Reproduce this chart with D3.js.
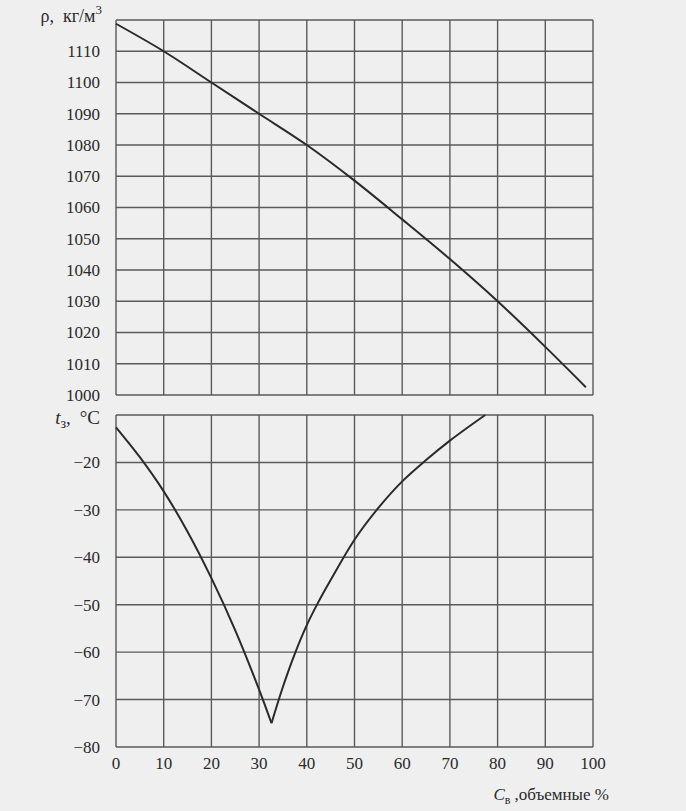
<!DOCTYPE html>
<html>
<head>
<meta charset="utf-8">
<script src="https://cdn.jsdelivr.net/npm/d3@7"></script>
<style>
  body { margin: 0; background: #efefef; }
</style>
</head>
<body>
<script>
// concentration of water, volume %
const xTicks = [0, 10, 20, 30, 40, 50, 60, 70, 80, 90, 100];
const densityTicks = [1000, 1010, 1020, 1030, 1040, 1050, 1060, 1070, 1080, 1090, 1100, 1110];
const freezeTicks = [-80, -70, -60, -50, -40, -30, -20];

// density curve, kg/m3
const densityX = [0, 10, 20, 30, 40, 50, 60, 70, 80, 90, 98.5];
const densityY = [1118.8, 1110, 1100, 1090, 1080, 1068.6, 1056.2, 1043.5, 1030, 1015.4, 1002.5];

// freezing temperature, two branches meeting at the eutectic point
const freezeLeftX = [0, 5, 10, 15, 20, 25, 30, 32.6];
const freezeLeftY = [-12.6, -18.9, -26.1, -34.6, -44.4, -55.4, -67.9, -75];
const freezeRightX = [32.6, 35, 37.5, 40, 42.5, 45, 50, 55, 60, 65, 70, 77.4];
const freezeRightY = [-75, -67.3, -60.3, -54.3, -49.3, -44.8, -36.3, -29.6, -24, -19.5, -15.4, -10];

const width = 686, height = 811;
const left = 116, right = 593;
const font = "'Liberation Serif', 'Times New Roman', 'DejaVu Serif', serif";
const ink = "#2a2a2a";

const svg = d3.select("body").append("svg")
    .attr("width", width)
    .attr("height", height)
    .attr("font-family", font)
    .style("font-family", font);

const x = d3.scaleLinear().domain([0, 100]).range([left, right]);
const yTop = d3.scaleLinear().domain([1000, 1120]).range([395, 20]);
const yBot = d3.scaleLinear().domain([-80, -10]).range([747, 415]);

function grid(yScale, yValues) {
    const g = svg.append("g");
    g.selectAll("line.v")
        .data(xTicks)
        .join("line")
        .attr("class", "v")
        .attr("x1", d => x(d)).attr("x2", d => x(d))
        .attr("y1", yScale.range()[1]).attr("y2", yScale.range()[0])
        .attr("stroke", "#5a5a5a").attr("stroke-width", 1.4);
    g.selectAll("line.h")
        .data(yValues.concat([yScale.domain()[1]]))
        .join("line")
        .attr("class", "h")
        .attr("x1", left).attr("x2", right)
        .attr("y1", d => yScale(d)).attr("y2", d => yScale(d))
        .attr("stroke", "#5a5a5a").attr("stroke-width", 1.4);
    // tick labels
    g.selectAll("text")
        .data(yValues)
        .join("text")
        .attr("x", left - 16)
        .attr("y", d => yScale(d))
        .attr("dy", "0.35em")
        .attr("text-anchor", "end")
        .attr("font-size", 17)
        .attr("fill", ink)
        .text(d => d < 0 ? "\u2212" + Math.abs(d) : d);
}

grid(yTop, densityTicks);
grid(yBot, freezeTicks);

// x tick labels
svg.append("g").selectAll("text")
    .data(xTicks)
    .join("text")
    .attr("x", d => x(d))
    .attr("y", 769)
    .attr("text-anchor", "middle")
    .attr("font-size", 17)
    .attr("fill", ink)
    .text(d => d);

// curves
const curveStyle = sel => sel.attr("fill", "none").attr("stroke", ink).attr("stroke-width", 2);

svg.append("path")
    .datum(d3.zip(densityX, densityY))
    .attr("d", d3.line().x(d => x(d[0])).y(d => yTop(d[1])).curve(d3.curveCatmullRom.alpha(0.5)))
    .call(curveStyle);

[[freezeLeftX, freezeLeftY], [freezeRightX, freezeRightY]].forEach(([xs, ys]) => {
    svg.append("path")
        .datum(d3.zip(xs, ys))
        .attr("d", d3.line().x(d => x(d[0])).y(d => yBot(d[1])).curve(d3.curveCatmullRom.alpha(0.5)))
        .call(curveStyle);
});

// axis titles
const rho = svg.append("text").attr("x", 102).attr("y", 22).attr("text-anchor", "end")
    .attr("font-size", 18).attr("fill", ink);
rho.append("tspan").text("\u03c1,");
rho.append("tspan").attr("dx", 9).text("кг/м");
rho.append("tspan").attr("dy", -8).attr("font-size", 13).text("3");

const t3 = svg.append("text").attr("x", 100).attr("y", 424).attr("text-anchor", "end")
    .attr("font-size", 19).attr("fill", ink);
t3.append("tspan").attr("font-style", "italic").text("t");
t3.append("tspan").attr("dy", 4).attr("font-size", 14).text("з");
t3.append("tspan").attr("dy", -4).text(",");
t3.append("tspan").attr("dx", 9).text("\u00b0C");

const cw = svg.append("text").attr("x", 609).attr("y", 800).attr("text-anchor", "end")
    .attr("font-size", 17).attr("fill", ink);
cw.append("tspan").attr("font-style", "italic").text("C");
cw.append("tspan").attr("dy", 4).attr("font-size", 12).text("в");
cw.append("tspan").attr("dy", -4).attr("dx", 4).text(",объемные %");
</script>
</body>
</html>
